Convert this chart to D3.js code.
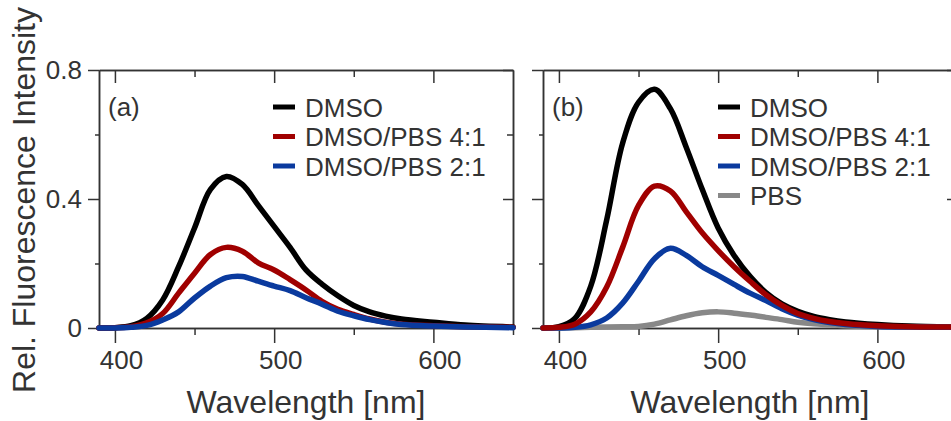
<!DOCTYPE html>
<html>
<head>
<meta charset="utf-8">
<script src="https://cdn.jsdelivr.net/npm/d3@7"></script>
<style>
  body { margin: 0; background: #fff; }
  text { font-family: "Liberation Sans", Arial, Helvetica, sans-serif; fill: #333; }
</style>
</head>
<body>
<div id="chart"></div>
<script>
// Set Dimensions
const width = 951;
const height = 421;
const yTop = 70;
const yBottom = 328;
const panelW = 414;
const panelLeft = [99, 543];

// Wavelength grid [nm]
const wlA = [390, 400, 410, 420, 430, 440, 450, 460, 470, 480, 490, 500, 510, 520, 530, 540, 550, 560, 570, 580, 600, 620, 650];
// Panel (a) series
const aDMSO  = [0, 0.001, 0.007, 0.03, 0.087, 0.19, 0.31, 0.43, 0.47, 0.445, 0.38, 0.315, 0.25, 0.18, 0.136, 0.1, 0.07, 0.05, 0.037, 0.028, 0.018, 0.009, 0.003];
const aPBS41 = [0, 0.001, 0.004, 0.016, 0.045, 0.108, 0.17, 0.228, 0.25, 0.238, 0.202, 0.18, 0.15, 0.118, 0.083, 0.058, 0.042, 0.028, 0.018, 0.012, 0.007, 0.004, 0.002];
const aPBS21 = [0, 0, 0.002, 0.008, 0.025, 0.05, 0.093, 0.13, 0.156, 0.16, 0.145, 0.13, 0.116, 0.094, 0.074, 0.052, 0.038, 0.026, 0.017, 0.011, 0.006, 0.003, 0.001];

// Panel (b) series
const bDMSO  = [0, 0.004, 0.03, 0.13, 0.335, 0.573, 0.70, 0.74, 0.68, 0.56, 0.43, 0.31, 0.225, 0.16, 0.11, 0.075, 0.052, 0.036, 0.026, 0.019, 0.011, 0.006, 0.003];
const bPBS41 = [0, 0.002, 0.012, 0.05, 0.127, 0.25, 0.38, 0.44, 0.425, 0.36, 0.295, 0.24, 0.19, 0.145, 0.103, 0.07, 0.045, 0.03, 0.02, 0.014, 0.007, 0.004, 0.003];
const bPBS21 = [0, 0, 0.002, 0.01, 0.031, 0.077, 0.145, 0.215, 0.247, 0.225, 0.19, 0.163, 0.135, 0.108, 0.085, 0.06, 0.04, 0.026, 0.017, 0.011, 0.005, 0.003, 0.002];
const bPBS   = [0, 0, 0.001, 0.002, 0.003, 0.004, 0.005, 0.012, 0.025, 0.038, 0.047, 0.05, 0.046, 0.04, 0.033, 0.026, 0.018, 0.013, 0.01, 0.007, 0.004, 0.003, 0.002];

// Tick values
const xMajor = [400, 500, 600];
const xMinor = [450, 550, 650];
const yMajor = [0, 0.4, 0.8];
const yMinor = [0.2, 0.6];

const names = ["DMSO", "DMSO/PBS 4:1", "DMSO/PBS 2:1", "PBS"];
const colors = ["#000000", "#a00000", "#0a3a9e", "#888888"];

const panels = [
  { tag: "(a)", series: [[aDMSO, 0], [aPBS41, 1], [aPBS21, 2]], legend: [0, 1, 2], legendX: 273, yLabels: true },
  { tag: "(b)", series: [[bDMSO, 0], [bPBS, 3], [bPBS21, 2], [bPBS41, 1]], legend: [0, 1, 2, 3], legendX: 718, yLabels: false }
];

const svg = d3.select("#chart")
  .append("svg")
  .attr("width", width)
  .attr("height", height);

const yScale = d3.scaleLinear()
  .domain([0, 0.8])
  .range([yBottom, yTop]);

const fmtY = d => d === 0 ? "0" : d3.format(".1f")(d);

function styleAxis(g) {
  g.selectAll("path, line").attr("stroke", "#333").attr("stroke-width", 1.5);
  g.selectAll("text").attr("fill", "#333").style("font-size", "26px")
    .style("font-family", "'Liberation Sans', Arial, sans-serif");
}

panels.forEach((p, pi) => {
  const x0 = panelLeft[pi];
  const xScale = d3.scaleLinear()
    .domain([390, 650])
    .range([x0, x0 + panelW]);

  const g = svg.append("g");

  // Bottom axis (ticks out)
  g.append("g")
    .attr("transform", "translate(0," + yBottom + ")")
    .call(d3.axisBottom(xScale).tickValues(xMajor).tickSize(15).tickSizeOuter(0).tickPadding(8))
    .call(styleAxis)
    .selectAll("text").attr("dx", 6);
  g.append("g")
    .attr("transform", "translate(0," + yBottom + ")")
    .call(d3.axisBottom(xScale).tickValues(xMinor).tickSize(7).tickSizeOuter(0).tickFormat(""))
    .call(styleAxis);

  // Top axis (ticks in)
  g.append("g")
    .attr("transform", "translate(0," + yTop + ")")
    .call(d3.axisTop(xScale).tickValues(xMajor).tickSize(-13).tickSizeOuter(0).tickFormat(""))
    .call(styleAxis);
  g.append("g")
    .attr("transform", "translate(0," + yTop + ")")
    .call(d3.axisTop(xScale).tickValues(xMinor.filter(d => d < 650)).tickSize(-7).tickSizeOuter(0).tickFormat(""))
    .call(styleAxis);

  // Left axis (ticks out)
  g.append("g")
    .attr("transform", "translate(" + x0 + ",0)")
    .call(d3.axisLeft(yScale).tickValues(yMajor).tickSize(11).tickSizeOuter(0).tickPadding(6)
      .tickFormat(p.yLabels ? fmtY : ""))
    .call(styleAxis);
  g.append("g")
    .attr("transform", "translate(" + x0 + ",0)")
    .call(d3.axisLeft(yScale).tickValues(yMinor).tickSize(4).tickSizeOuter(0).tickFormat(""))
    .call(styleAxis);

  // Right axis (ticks in)
  g.append("g")
    .attr("transform", "translate(" + (x0 + panelW) + ",0)")
    .call(d3.axisRight(yScale).tickValues(yMajor.filter(d => d > 0)).tickSize(-10).tickSizeOuter(0).tickFormat(""))
    .call(styleAxis);
  g.append("g")
    .attr("transform", "translate(" + (x0 + panelW) + ",0)")
    .call(d3.axisRight(yScale).tickValues(yMinor).tickSize(-6).tickSizeOuter(0).tickFormat(""))
    .call(styleAxis);

  // Curves
  const line = d3.line()
    .x((d, i) => xScale(wlA[i]))
    .y(d => yScale(Math.max(0, d)))
    .curve(d3.curveCatmullRom.alpha(0.5));

  p.series.forEach(s => {
    g.append("path")
      .datum(s[0])
      .attr("d", line)
      .attr("fill", "none")
      .attr("stroke", colors[s[1]])
      .attr("stroke-width", 5.5)
      .attr("stroke-linejoin", "round")
      .attr("stroke-linecap", "round");
  });

  // Panel tag
  g.append("text")
    .attr("x", x0 + 9)
    .attr("y", 116)
    .style("font-size", "26px")
    .text(p.tag);

  // Legend
  p.legend.forEach((k, i) => {
    const ly = 107 + i * 29.5;
    g.append("line")
      .attr("x1", p.legendX).attr("x2", p.legendX + 22)
      .attr("y1", ly).attr("y2", ly)
      .attr("stroke", colors[k])
      .attr("stroke-width", 5);
    g.append("text")
      .attr("x", p.legendX + 32)
      .attr("y", ly + 9.5)
      .style("font-size", "26px")
      .text(names[k]);
  });

  // X axis title
  g.append("text")
    .attr("x", x0 + panelW / 2)
    .attr("y", 413)
    .attr("text-anchor", "middle")
    .style("font-size", "32px")
    .text("Wavelength [nm]");
});

// Y axis title
svg.append("text")
  .attr("transform", "translate(35,200) rotate(-90)")
  .attr("text-anchor", "middle")
  .style("font-size", "32px")
  .text("Rel. Fluorescence Intensity");
</script>
</body>
</html>
